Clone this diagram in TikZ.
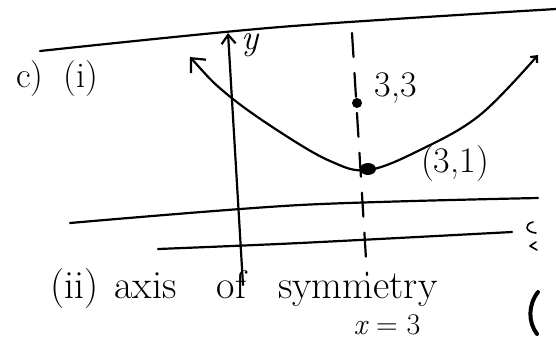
\documentclass[tikz,border=0pt]{standalone}
\usepackage{amsmath}
\usetikzlibrary{arrows.meta,positioning,calc,shapes.geometric}

\tikzset{
  pen/.style={line width=2.2pt, line cap=round, line join=round},
  hand/.style={font=\fontsize{36}{40}\selectfont, inner sep=0pt},
  dot/.style={circle, fill, inner sep=0pt, minimum size=10pt},
}

\begin{document}
\begin{tikzpicture}[x=1pt, y=-1pt]
  \useasboundingbox (0,0) rectangle (556,341);
  % ruled lines of the page
  \draw[pen] plot[smooth] coordinates {(40,51) (280,27) (556,9)};
  \draw[pen] plot[smooth] coordinates {(70,223) (300,205) (538,198)};
  \draw[pen] plot[smooth] coordinates {(158,249) (300,243) (512,232)};

  % y axis
  \coordinate (ybot) at (243,285);
  \coordinate (ytop) at (228,33);
  \draw[pen, -{Straight Barb[length=9pt,width=14pt]}] (ybot) -- (ytop);
  \node[hand] (ylab) at (250,45) {\itshape y};

  % axis of symmetry
  \coordinate (dtop) at (352,33);
  \coordinate (dbot) at (367,275);
  \draw[pen, dash pattern=on 24pt off 16pt] (dtop) -- (dbot);

  % parabola
  \draw[pen, {Straight Barb[length=11pt,width=20pt]}-{Straight Barb[length=5pt,width=9pt]}]
    plot[smooth, tension=0.6] coordinates {(190,57) (228,95) (280,132) (330,161) (368,170)
      (420,150) (480,115) (538,55)};
  \node[dot] (p33) at (357,103) {};
  \node[dot, ellipse, minimum width=16pt, minimum height=12pt] (vtx) at (368,169) {};
  \node[hand] (l33) at (396,88) {3,3};
  \node[hand] (lvtx) at (455,164) {(3,1)};

  % text
  \node[hand] (partc) at (57,79) {c)\hspace{20pt}(i)};
  \node[hand, font=\fontsize{40}{44}\selectfont, anchor=base west] (partii) at (50,298)
    {(ii)\hspace{16pt}axis\hspace{40pt}of\hspace{32pt}symmetry};
  \node[hand, font=\fontsize{30}{34}\selectfont, anchor=base] (xeq) at (387,334)
    {\itshape x\upshape\ = 3};

  % cut-off marks at the right edge
  \draw[pen, line width=1.6pt] (533,222) .. controls (524,224) and (525,232) .. (536,233);
  \draw[pen, line width=1.6pt] (536,242) -- (530,246) -- (537,250);
  \draw[line width=4pt, line cap=round] (538,292) .. controls (528,305) and (528,322) .. (537,334);
\end{tikzpicture}
\end{document}
